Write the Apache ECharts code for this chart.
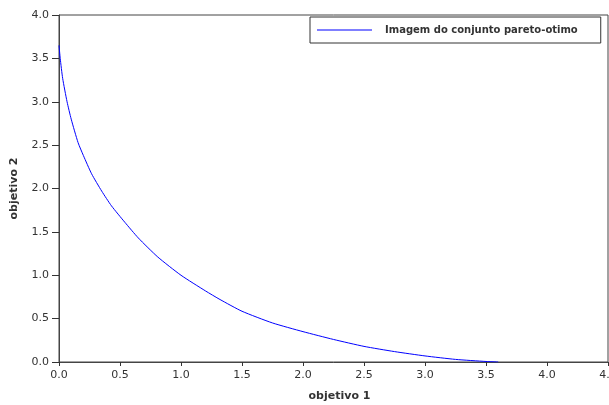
<!DOCTYPE html>
<html><head><meta charset="utf-8">
<script src="https://cdn.jsdelivr.net/npm/echarts@6/dist/echarts.min.js"></script>
<style>html,body{margin:0;padding:0;background:#fff}#c{width:609px;height:405px}</style>
</head><body><div id="c"></div>
<script>
const objetivo1 = [0, 0.01, 0.03, 0.066, 0.1, 0.156, 0.2, 0.267, 0.35, 0.43, 0.54, 0.65, 0.81, 1.0, 1.2, 1.32, 1.5, 1.75, 2.0, 2.25, 2.5, 2.75, 3.0, 3.25, 3.5, 3.6];
const objetivo2 = [3.65, 3.5, 3.27, 3.0, 2.8, 2.53, 2.38, 2.17, 1.97, 1.8, 1.61, 1.43, 1.21, 1.0, 0.82, 0.72, 0.585, 0.45, 0.35, 0.26, 0.18, 0.12, 0.07, 0.03, 0.006, 0.0];
const seriesName = 'Imagem do conjunto pareto-otimo';
const xName = 'objetivo 1', yName = 'objetivo 2';
const font = 'DejaVu Sans';
const chart = echarts.init(document.getElementById('c'), null, {renderer: 'canvas'});
chart.setOption({
  animation: false,
  grid: {left: 59, right: 1, top: 15, bottom: 43, containLabel: false, outerBoundsMode: 'none',
         show: true, borderColor: '#444', borderWidth: 1},
  legend: {
    show: true, left: 310, top: 17, padding: [8, 23, 8, 7],
    borderColor: '#333', borderWidth: 1, backgroundColor: '#fff',
    itemWidth: 55, itemHeight: 1, itemGap: 0,
    textStyle: {fontFamily: font, fontSize: 10, fontWeight: 'bold', color: '#333', padding: [0, 0, 0, 8]},
    data: [{name: seriesName, icon: 'rect', itemStyle: {color: '#0000ff'}}]
  },
  xAxis: {
    type: 'value', min: 0, max: 4.5, interval: 0.5,
    name: xName, nameLocation: 'middle', nameGap: 29,
    nameTextStyle: {fontFamily: font, fontSize: 11, fontWeight: 'bold', color: '#333', padding: [0, 0, 0, 12]},
    axisLine: {show: true, lineStyle: {color: '#444', width: 1}},
    axisTick: {show: true, length: 4, lineStyle: {color: '#333'}},
    axisLabel: {fontFamily: font, fontSize: 11, color: '#333', margin: 8, formatter: v => v.toFixed(1)},
    splitLine: {show: false}
  },
  yAxis: {
    type: 'value', min: 0, max: 4, interval: 0.5,
    name: yName, nameLocation: 'middle', nameGap: 39,
    nameTextStyle: {fontFamily: font, fontSize: 11, fontWeight: 'bold', color: '#333'},
    axisLine: {show: true, lineStyle: {color: '#444', width: 1}},
    axisTick: {show: true, length: 7, lineStyle: {color: '#333'}},
    axisLabel: {fontFamily: font, fontSize: 11, color: '#333', margin: 10, formatter: v => v.toFixed(1)},
    splitLine: {show: false}
  },
  series: [{
    name: seriesName, type: 'line', smooth: 0.2, symbol: 'none',
    lineStyle: {color: '#0000ff', width: 1},
    itemStyle: {color: '#0000ff'},
    data: objetivo1.map((x, i) => [x, objetivo2[i]])
  }]
});
</script></body></html>
